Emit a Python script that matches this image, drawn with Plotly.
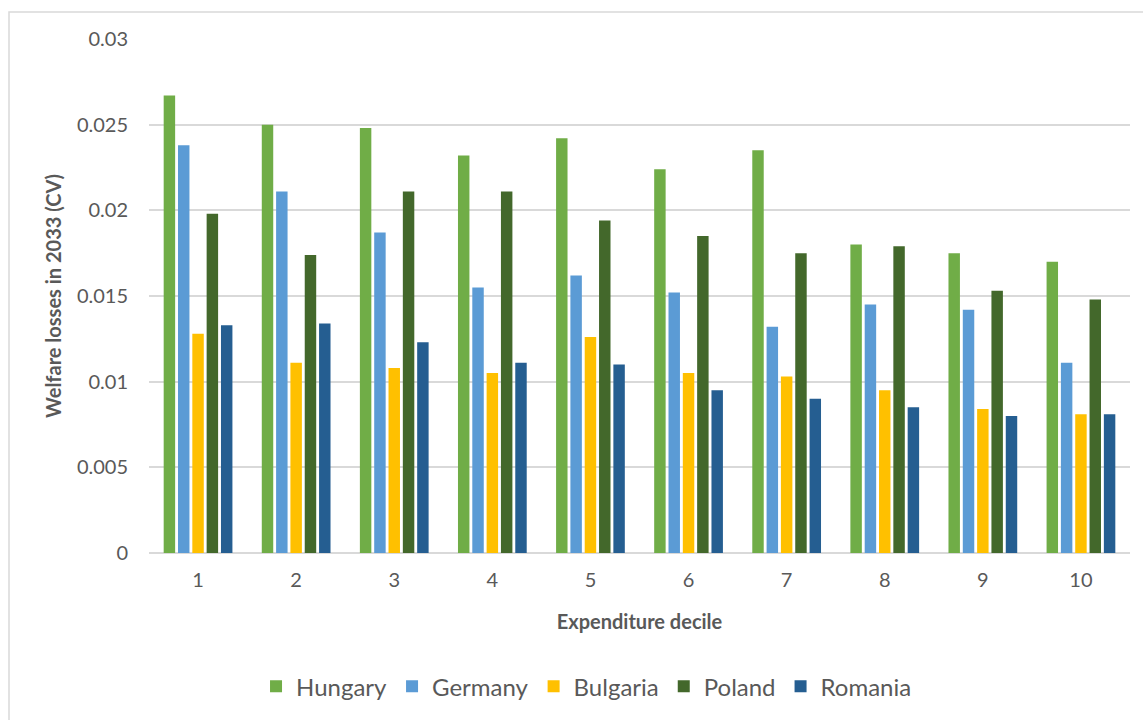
import plotly.graph_objects as go

# Welfare losses by expenditure decile, per country
deciles = ["1", "2", "3", "4", "5", "6", "7", "8", "9", "10"]
hungary = [0.0267, 0.0250, 0.0248, 0.0232, 0.0242, 0.0224, 0.0235, 0.0180, 0.0175, 0.0170]
germany = [0.0238, 0.0211, 0.0187, 0.0155, 0.0162, 0.0152, 0.0132, 0.0145, 0.0142, 0.0111]
bulgaria = [0.0128, 0.0111, 0.0108, 0.0105, 0.0126, 0.0105, 0.0103, 0.0095, 0.0084, 0.0081]
poland = [0.0198, 0.0174, 0.0211, 0.0211, 0.0194, 0.0185, 0.0175, 0.0179, 0.0153, 0.0148]
romania = [0.0133, 0.0134, 0.0123, 0.0111, 0.0110, 0.0095, 0.0090, 0.0085, 0.0080, 0.0081]

y_ticks = [0, 0.005, 0.01, 0.015, 0.02, 0.025, 0.03]
y_tick_labels = ["0", "0.005", "0.01", "0.015", "0.02", "0.025", "0.03"]

series = [
    ("Hungary", hungary, "#70AD47"),
    ("Germany", germany, "#5B9BD5"),
    ("Bulgaria", bulgaria, "#FFC000"),
    ("Poland", poland, "#43682B"),
    ("Romania", romania, "#255E91"),
]

FONT = "Lato"
TEXT = "#595959"
GRID = "#D9D9D9"

fig = go.Figure()
for name, vals, color in series:
    fig.add_trace(go.Bar(
        x=deciles, y=vals, name=name,
        marker=dict(color=color, line=dict(width=0)),
    ))

fig.update_layout(
    width=1143, height=720,
    barmode="group", bargap=0.27, bargroupgap=0.2,
    paper_bgcolor="white", plot_bgcolor="white",
    margin=dict(l=149, r=13, t=39, b=167, autoexpand=False),
    font=dict(family=FONT, color=TEXT, size=18),
    showlegend=True,
    legend=dict(
        orientation="h", x=0.446, xanchor="center", y=-0.26, yanchor="middle",
        font=dict(family=FONT, size=24, color=TEXT),
        traceorder="normal",
    ),
    xaxis=dict(
        showgrid=False, showline=False, ticks="", ticklabelstandoff=13,
        tickfont=dict(size=20, color=TEXT),
        title=dict(text="<b>Expenditure decile</b>", font=dict(size=20, color=TEXT), standoff=24),
    ),
    yaxis=dict(
        range=[0, 0.03], tickvals=y_ticks, ticktext=y_tick_labels,
        showgrid=True, gridcolor=GRID, gridwidth=1.5,
        zeroline=True, zerolinecolor=GRID, zerolinewidth=1.5,
        showline=False, ticks="", ticklabelstandoff=20,
        tickfont=dict(size=20, color=TEXT),
        title=dict(text="<b>Welfare losses in 2033 (CV)</b>", font=dict(size=20, color=TEXT), standoff=9),
    ),
    shapes=[dict(
        type="rect", xref="paper", yref="paper",
        x0=-140 / 981, x1=1.05, y0=-1.0, y1=1 + 27 / 514,
        line=dict(color=GRID, width=1.5), fillcolor="rgba(0,0,0,0)", layer="below",
    )],
)

fig.write_html("out.html")
